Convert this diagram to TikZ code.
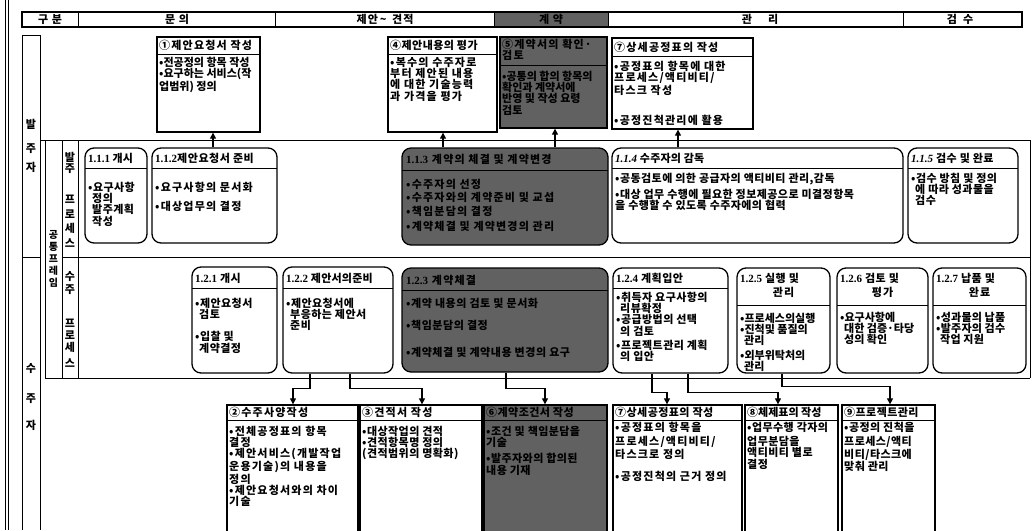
\documentclass[tikz,border=0pt]{standalone}
\usepackage{fontspec}
\setmainfont{Noto Sans CJK KR}[LetterSpace=11]
\newfontfamily\tnr{Liberation Serif}
\usetikzlibrary{arrows.meta,fit}
\definecolor{darkfill}{gray}{0.38}
\newcommand\myind{\hspace*{4pt}}
\begin{document}
\begin{tikzpicture}[x=1pt,y=-1pt,
  fr/.style={line width=1pt},
  docb/.style={draw, line width=1.3pt, inner sep=0pt},
  procb/.style={draw, line width=1.3pt, rounded corners=9pt, inner sep=0pt},
  dk/.style={fill=darkfill},
  bt/.style={font=\fontsize{11}{11.2}\selectfont\bfseries, align=left, inner sep=0pt, anchor=north west},
  ls/.style={font=\fontsize{11}{11.2}\selectfont\bfseries\addfontfeature{LetterSpace=#1}},
  tt/.style={font=\fontsize{11}{11.2}\selectfont\bfseries, inner sep=0pt, anchor=west},
  hd/.style={font=\fontsize{11}{11.2}\selectfont\bfseries, inner sep=0pt},
  vl/.style={font=\fontsize{11}{11.2}\selectfont\bfseries, inner sep=0pt, align=center},
  arr/.style={-{Triangle[length=6pt,width=6pt]}, line width=1.1pt}]
\useasboundingbox (0,0) rectangle (1035,530);
\clip (0,0) rectangle (1035,530);

% ---------- outer frame lines ----------
\draw[fr] (5,0) -- (5,530);
\draw[fr] (8.5,0) -- (8.5,530);
% header
\fill[darkfill] (494,12) rectangle (608,27);
\draw[line width=1.2pt] (22,12) rectangle (1022,27);
\foreach \xx in {78,275,494,608,903} \draw[fr] (\xx,12) -- (\xx,27);
\node[hd] (h1) at (50,19.5) {구 분};
\node[hd] (h2) at (177,19.5) {문 의};
\node[hd] (h3) at (385,19.5) {제안\,\~{}\, 견적};
\node[hd] (h4) at (551,19.5) {계 약};
\node[hd] (h5) at (760,19.5) {관\hspace{16pt}리};
\node[hd] (h6) at (960,19.5) {검\hspace{6pt}수};

% left columns
\draw[fr] (22,35) -- (40,35);
\draw[fr] (22,35) -- (22,530);
\draw[fr] (40,35) -- (40,530);
\draw[fr] (22,257) -- (40,257);
\draw[fr] (40,140) -- (1030,140);
\draw[fr] (45,378) -- (1030,378);
\draw[fr] (1030,140) -- (1030,378);
\draw[fr] (45,140) -- (45,378);
\draw[fr] (62,140) -- (62,378);
\draw[fr] (78,140) -- (78,378);
\draw[fr] (62,257) -- (1030,257);

\node[vl] (la1) at (31,146) {발\\[12pt]주\\[8pt]자};
\node[vl] (la2) at (31,397) {수\\[19pt]주\\[16pt]자};
\node[vl, font=\fontsize{10}{11}\selectfont\bfseries] (lb) at (53.5,259) {공\\[1pt]통\\[1pt]프\\[1pt]레\\[1pt]임};
\node[vl] (lc1) at (70,200) {발\\주\\[19pt]프\\[4pt]로\\[3pt]세\\[4pt]스};
\node[vl] (lc2) at (70,319) {수\\[2pt]주\\[23pt]프\\[1pt]로\\[1pt]세\\[4pt]스};

% ---------- top documents ----------
\node[docb, fit={(157,37)(260,132)}] (d1) {};
\draw[line width=1pt] (157,54) -- (260,54);
\node[tt] (d1t) at (159,45.5) {①제안요청서 작성};
\node[bt, ls=0] (d1b) at (159,57) {•전공정의 항목 작성\\•요구하는 서비스(작\\업범위) 정의};

\node[docb, fit={(388,37)(497,132)}] (d4) {};
\draw[line width=1pt] (388,54) -- (497,54);
\node[tt, ls=4] (d4t) at (390,45.5) {④제안내용의 평가};
\node[bt] (d4b) at (390,57) {•복수의 수주자로\\부터 제안된 내용\\에 대한 기술능력\\과 가격을 평가};

\node[docb, dk, fit={(500,37)(607,128)}] (d5) {};
\draw[line width=1pt] (500,65) -- (607,65);
\node[bt] (d5t) at (502,39) {⑤계약서의 확인·\\검토};
\node[bt, ls=0] (d5b) at (502,71) {•공통의 합의 항목의\\확인과 계약서에\\반영 및 작성 요령\\검토};

\node[docb, fit={(612,38)(753,129)}] (d7) {};
\draw[line width=1pt] (612,56) -- (753,56);
\node[tt] (d7t) at (614,47) {⑦상세공정표의 작성};
\node[bt] (d7b) at (614,61) {•공정표의 항목에 대한\\프로세스/액티비티/\\타스크 작성\\[19pt]•공정진척관리에 활용};

% ---------- ordering process row ----------
\node[procb, fit={(85,148)(147,243)}] (b111) {};
\draw[line width=1pt] (85,168) -- (147,168);
\node[tt, ls=0] (b111t) at (88,158) {{\tnr 1.1.1} 개시};
\node[bt, ls=4] (b111b) at (88,182) {•요구사항\\\myind 정의\\\myind 발주계획\\\myind 작성};

\node[procb, fit={(152,148)(277,243)}] (b112) {};
\draw[line width=1pt] (152,168) -- (277,168);
\node[tt, ls=5] (b112t) at (155,158) {{\tnr 1.1.2}제안요청서 준비};
\node[bt] (b112b) at (155,182) {•요구사항의 문서화\\[8pt]•대상업무의 결정};

\node[procb, dk, fit={(402,148)(608,245)}] (b113) {};
\draw[line width=1pt] (402,170) -- (608,170);
\node[tt] (b113t) at (406,159) {{\tnr 1.1.3} 계약의 체결 및 계약변경};
\node[bt] (b113b) at (406,179) {•수주자의 선정\\[2pt]•수주자와의 계약준비 및 교섭\\[3pt]•책임분담의 결정\\[3pt]•계약체결 및 계약변경의 관리};

\node[procb, fit={(612,148)(903,243)}] (b114) {};
\draw[line width=1pt] (612,168) -- (903,168);
\node[tt, ls=2] (b114t) at (615,158) {{\tnr\itshape 1.1.4} 수주자의 감독};
\node[bt, ls=4] (b114b) at (615,173) {•공동검토에 의한 공급자의 액티비티 관리,감독\\[3pt]•대상 업무 수행에 필요한 정보제공으로 미결정항목\\을 수행할 수 있도록 수주자에의 협력};

\node[procb, fit={(908,148)(1018,243)}] (b115) {};
\draw[line width=1pt] (908,168) -- (1018,168);
\node[tt, ls=4] (b115t) at (911,158) {{\tnr\itshape 1.1.5} 검수 및 완료};
\node[bt, ls=4] (b115b) at (911,173) {•검수 방침 및 정의\\\myind 에 따라 성과물을\\\myind 검수};

% ---------- contractor process row ----------
\node[procb, fit={(192,267)(277,373)}] (b121) {};
\draw[line width=1pt] (192,288) -- (277,288);
\node[tt, ls=4] (b121t) at (195,278) {{\tnr 1.2.1} 개시};
\node[bt, ls=4] (b121b) at (195,298) {•제안요청서\\\myind 검토\\[11pt]•입찰 및\\\myind 계약결정};

\node[procb, fit={(283,267)(393,373)}] (b122) {};
\draw[line width=1pt] (283,288) -- (393,288);
\node[tt, ls=2] (b122t) at (286,278) {{\tnr 1.2.2} 제안서의준비};
\node[bt, ls=4] (b122b) at (286,298) {•제안요청서에\\\myind 부응하는 제안서\\\myind 준비};

\node[procb, dk, fit={(402,268)(608,372)}] (b123) {};
\draw[line width=1pt] (402,290) -- (608,290);
\node[tt] (b123t) at (406,280) {{\tnr 1.2.3} 계약체결};
\node[bt, ls=5] (b123b) at (406,298) {•계약 내용의 검토 및 문서화\\[11pt]•책임분담의 결정\\[16pt]•계약체결 및 계약내용 변경의 요구};

\node[procb, fit={(613,268)(728,373)}] (b124) {};
\draw[line width=1pt] (613,288) -- (728,288);
\node[tt, ls=4] (b124t) at (616,278) {{\tnr 1.2.4} 계획입안};
\node[bt, ls=4] (b124b) at (616,292) {•취득자 요구사항의\\\myind 리뷰확정\\•공급방법의 선택\\\myind 의 검토\\[3pt]•프로젝트관리 계획\\\myind 의 입안};

\node[procb, fit={(737,268)(830,373)}] (b125) {};
\draw[line width=1pt] (737,305) -- (830,305);
\node[tt, ls=4] (b125t) at (740,278) {{\tnr 1.2.5} 실행 및};
\node[hd] (b125u) at (783.5,292) {관리};
\node[bt, ls=0] (b125b) at (740,313) {•프로세스의실행\\•진척및 품질의\\\myind 관리\\[3pt]•외부위탁처의\\\myind 관리};

\node[procb, fit={(837,268)(928,373)}] (b126) {};
\draw[line width=1pt] (837,305) -- (928,305);
\node[tt, ls=4] (b126t) at (840,278) {{\tnr 1.2.6} 검토 및};
\node[hd] (b126u) at (882.5,292) {평가};
\node[bt, ls=0] (b126b) at (840,312) {•요구사항에\\\myind 대한 검증·타당\\\myind 성의 확인};

\node[procb, fit={(933,268)(1026,373)}] (b127) {};
\draw[line width=1pt] (933,305) -- (1026,305);
\node[tt, ls=4] (b127t) at (936,278) {{\tnr 1.2.7} 납품 및};
\node[hd] (b127u) at (979.5,292) {완료};
\node[bt, ls=2] (b127b) at (936,312) {•성과물의 납품\\•발주자의 검수\\\myind 작업 지원};

% ---------- bottom documents ----------
\node[docb, fit={(227,405)(358,540)}] (d2) {};
\draw[line width=1pt] (227,420) -- (358,420);
\node[tt] (d2t) at (229,412.5) {②수주사양작성};
\node[bt] (d2b) at (229,426) {•전체공정표의 항목\\결정\\•제안서비스(개발작업\\운용기술)의 내용을\\정의\\•제안요청서와의 차이\\기술};

\node[docb, fit={(360,405)(482,540)}] (d3) {};
\draw[line width=1pt] (360,420) -- (482,420);
\node[tt] (d3t) at (362,412.5) {③견적서 작성};
\node[bt, ls=4] (d3b) at (362,426) {•대상작업의 견적\\•견적항목명 정의\\(견적범위의 명확화)};

\node[docb, dk, fit={(484,405)(607,540)}] (d6) {};
\draw[line width=1pt] (484,420) -- (607,420);
\node[tt, ls=4] (d6t) at (486,412.5) {⑥계약조건서 작성};
\node[bt, ls=4] (d6b) at (486,426) {•조건 및 책임분담을\\기술\\[5pt]•발주자와의 합의된\\내용 기재};

\node[docb, fit={(613,405)(742,540)}] (d7x) {};
\draw[line width=1pt] (613,420) -- (742,420);
\node[tt, ls=4] (d7xt) at (615,412.5) {⑦상세공정표의 작성};
\node[bt] (d7xb) at (615,422) {•공정표의 항목을\\[3pt]프로세스/액티비티/\\타스크로 정의\\[11pt]•공정진척의 근거 정의};

\node[docb, fit={(745,405)(838,540)}] (d8) {};
\draw[line width=1pt] (745,420) -- (838,420);
\node[tt, ls=0] (d8t) at (747,412.5) {⑧체제표의 작성};
\node[bt, ls=4] (d8b) at (747,422) {•업무수행 각자의\\[3pt]업무분담을\\액티비티 별로\\결정};

\node[docb, fit={(842,405)(935,540)}] (d9) {};
\draw[line width=1pt] (842,420) -- (935,420);
\node[tt, ls=4] (d9t) at (844,412.5) {⑨프로젝트관리};
\node[bt, ls=4] (d9b) at (844,422) {•공정의 진척을\\[3pt]프로세스/액티\\비티/타스크에\\맞춰 관리};

% ---------- connectors ----------
\coordinate (u1) at (213,0);
\coordinate (u2) at (443,0);
\coordinate (u3) at (555,0);
\coordinate (u4) at (678,0);
\draw[arr] (b112.north -| u1) -- (d1.south -| u1);
\draw[arr] (b113.north -| u2) -- (d4.south -| u2);
\draw[arr] (b113.north -| u3) -- (d5.south -| u3);
\draw[arr] (b114.north -| u4) -- (d7.south -| u4);

\coordinate (s1) at (310,0);  \coordinate (e1) at (293,0);
\coordinate (s2) at (350,0);  \coordinate (e2) at (422,0);
\coordinate (s3) at (506,0);  \coordinate (e3) at (545,0);
\coordinate (s4) at (652,0);  \coordinate (e4) at (667,0);
\coordinate (s5) at (688,0);  \coordinate (e5) at (778,0);
\coordinate (s6) at (782,0);  \coordinate (e6) at (890,0);
\draw[arr] (b122.south -| s1) -- ++(0,15) -| (d2.north -| e1);
\draw[arr] (b122.south -| s2) -- ++(0,15) -| (d3.north -| e2);
\draw[arr] (b123.south -| s3) -- ++(0,16) -| (d6.north -| e3);
\draw[arr] (b124.south -| s4) -- ++(0,19) -| (d7x.north -| e4);
\draw[arr] (b124.south -| s5) -- ++(0,19) -| (d8.north -| e5);
\draw[arr] (b125.south -| s6) -- ++(0,13) -| (d9.north -| e6);
\end{tikzpicture}
\end{document}
